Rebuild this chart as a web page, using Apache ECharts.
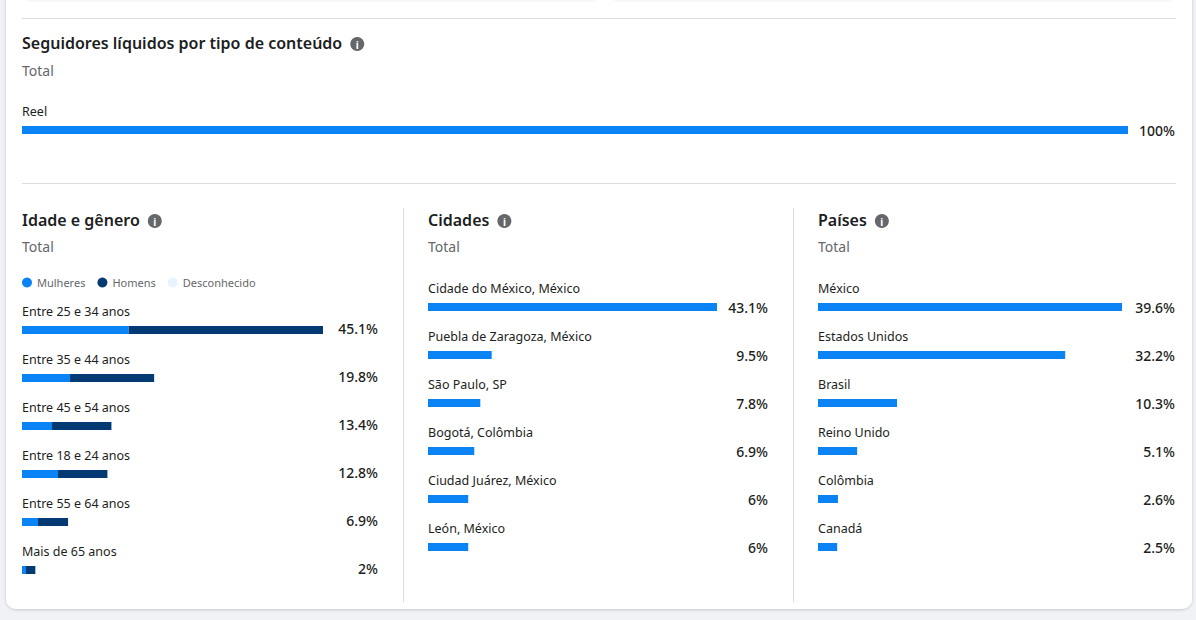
<!DOCTYPE html>
<html>
<head>
<meta charset="utf-8">
<script src="https://cdn.jsdelivr.net/npm/echarts@6/dist/echarts.min.js"></script>
<style>
html,body{margin:0;padding:0;background:#f0f2f5;}
#c{width:1196px;height:620px;}
</style>
</head>
<body>
<div id="c"></div>
<script>
// ---- data ----
const reelCats = ['Reel'];
const reelValues = [100];

const ageCats = ['Entre 25 e 34 anos','Entre 35 e 44 anos','Entre 45 e 54 anos','Entre 18 e 24 anos','Entre 55 e 64 anos','Mais de 65 anos'];
const ageWomen = [16.0, 7.2, 4.5, 5.4, 2.4, 0.6];
const ageMen = [29.1, 12.6, 8.9, 7.4, 4.5, 1.4];
const ageUnknown = [0, 0, 0, 0, 0, 0];
const ageTotals = [45.1, 19.8, 13.4, 12.8, 6.9, 2];

const cityCats = ['Cidade do México, México','Puebla de Zaragoza, México','São Paulo, SP','Bogotá, Colômbia','Ciudad Juárez, México','León, México'];
const cityValues = [43.1, 9.5, 7.8, 6.9, 6, 6];

const countryCats = ['México','Estados Unidos','Brasil','Reino Unido','Colômbia','Canadá'];
const countryValues = [39.6, 32.2, 10.3, 5.1, 2.6, 2.5];

const legendNames = ['Mulheres','Homens','Desconhecido'];

// ---- style ----
const FONT = '"Segoe UI","Noto Sans","Open Sans",sans-serif';
const BLUE = '#0a84f5';
const DARK = '#033a73';
const LIGHT = '#e7f3ff';
const TXT = '#1c1e21';
const SUB = '#65676b';
const LINE = '#dadde1';
const TITLE_FONT = '600 16px ' + FONT;

const chart = echarts.init(document.getElementById('c'), null, {renderer:'svg'});

const measureCtx = document.createElement('canvas').getContext('2d');
function textWidth(text, font){ measureCtx.font = font; return measureCtx.measureText(text).width; }

function yLeft(gridIndex, cats){
  return {
    type:'category', gridIndex, data:cats, inverse:true,
    axisLine:{show:false}, axisTick:{show:false}, splitLine:{show:false},
    axisLabel:{
      inside:true, margin:0, interval:0, align:'left', verticalAlign:'bottom',
      lineHeight:16, padding:[0,0,11,0],
      color:TXT, fontSize:12.5, fontFamily:FONT
    }
  };
}
function yRight(gridIndex, cats, values, margin, raise){
  const lbl = {
    margin, interval:0, align:'right',
    color:TXT, fontSize:14, fontWeight:500, fontFamily:FONT,
    formatter:(v, i) => values[i] + '%'
  };
  if (raise) { lbl.verticalAlign = 'bottom'; lbl.lineHeight = raise * 2; }
  else { lbl.verticalAlign = 'middle'; }
  return {
    type:'category', gridIndex, data:cats, inverse:true, position:'right',
    axisLine:{show:false}, axisTick:{show:false}, splitLine:{show:false},
    axisLabel:lbl
  };
}
function xVal(gridIndex, max){
  return {type:'value', gridIndex, min:0, max, show:false};
}

function infoIcon(cx, cy){
  return {
    type:'group', x:cx, y:cy, children:[
      {type:'circle', shape:{cx:0, cy:0, r:7}, style:{fill:'#65676b'}},
      {type:'text', style:{text:'i', x:0, y:0.5, fill:'#fff', font:'bold 10px '+FONT, align:'center', verticalAlign:'middle'}}
    ]
  };
}
function txt(text, x, y, font, color){
  return {type:'text', style:{text, x, y, fill:color, font, verticalAlign:'middle'}};
}
function title(text, x, y){
  return [txt(text, x, y, TITLE_FONT, TXT), infoIcon(x + textWidth(text, TITLE_FONT) + 15, y + 1)];
}
function hline(x1, x2, y){
  return {type:'line', shape:{x1, y1:y, x2, y2:y}, style:{stroke:LINE, lineWidth:1}};
}
function vline(x, y1, y2){
  return {type:'line', shape:{x1:x, y1, x2:x, y2}, style:{stroke:LINE, lineWidth:1}};
}
const SUB_FONT = '400 14px ' + FONT;

const option = {
  backgroundColor:'#f0f2f5',
  animation:false,
  legend:{
    data:legendNames, left:17, top:272, icon:'circle', itemWidth:10, itemHeight:10, itemGap:12,
    textStyle:{color:SUB, fontSize:11, fontFamily:FONT}, selectedMode:false
  },
  graphic:[
    {type:'rect', z:-10, shape:{x:6, y:-20, width:1186, height:629, r:10},
     style:{fill:'#fff', shadowBlur:3, shadowColor:'rgba(0,0,0,0.18)', shadowOffsetY:1}},
    {type:'rect', z:-9, shape:{x:24, y:-10, width:574, height:12, r:6}, style:{fill:'#f7f8fa'}},
    {type:'rect', z:-9, shape:{x:612, y:-10, width:562, height:12, r:6}, style:{fill:'#f7f8fa'}},
    hline(22, 1176, 18.5),
    hline(22, 1176, 183.5),
    vline(403.5, 208, 602),
    vline(793.5, 208, 602),
    ...title('Seguidores líquidos por tipo de conteúdo', 22, 43),
    txt('Total', 22, 70, SUB_FONT, SUB),
    ...title('Idade e gênero', 22, 220),
    txt('Total', 22, 246, SUB_FONT, SUB),
    ...title('Cidades', 428, 220),
    txt('Total', 428, 246, SUB_FONT, SUB),
    ...title('Países', 818, 220),
    txt('Total', 818, 246, SUB_FONT, SUB)
  ],
  grid:[
    {left:22, top:106, width:1106, height:48},
    {left:22, top:306, width:301, height:288},
    {left:428, top:283, width:289, height:288},
    {left:818, top:283, width:304, height:288}
  ],
  xAxis:[
    xVal(0, Math.max(...reelValues)),
    xVal(1, Math.max(...ageTotals)),
    xVal(2, Math.max(...cityValues)),
    xVal(3, Math.max(...countryValues))
  ],
  yAxis:[
    yLeft(0, reelCats),
    yRight(0, reelCats, reelValues, 47, 0),
    yLeft(1, ageCats),
    yRight(1, ageCats, ageTotals, 55, 2),
    yLeft(2, cityCats),
    yRight(2, cityCats, cityValues, 51, 0),
    yLeft(3, countryCats),
    yRight(3, countryCats, countryValues, 53, 0)
  ],
  series:[
    {type:'bar', xAxisIndex:0, yAxisIndex:0, data:reelValues, barWidth:8, itemStyle:{color:BLUE}, silent:true},
    {name:'Mulheres', type:'bar', stack:'age', xAxisIndex:1, yAxisIndex:2, data:ageWomen, barWidth:8, itemStyle:{color:BLUE}, silent:true},
    {name:'Homens', type:'bar', stack:'age', xAxisIndex:1, yAxisIndex:2, data:ageMen, barWidth:8, itemStyle:{color:DARK}, silent:true},
    {name:'Desconhecido', type:'bar', stack:'age', xAxisIndex:1, yAxisIndex:2, data:ageUnknown, barWidth:8, itemStyle:{color:LIGHT}, silent:true},
    {type:'bar', xAxisIndex:2, yAxisIndex:4, data:cityValues, barWidth:8, itemStyle:{color:BLUE}, silent:true},
    {type:'bar', xAxisIndex:3, yAxisIndex:6, data:countryValues, barWidth:8, itemStyle:{color:BLUE}, silent:true}
  ]
};
chart.setOption(option);
</script>
</body>
</html>
